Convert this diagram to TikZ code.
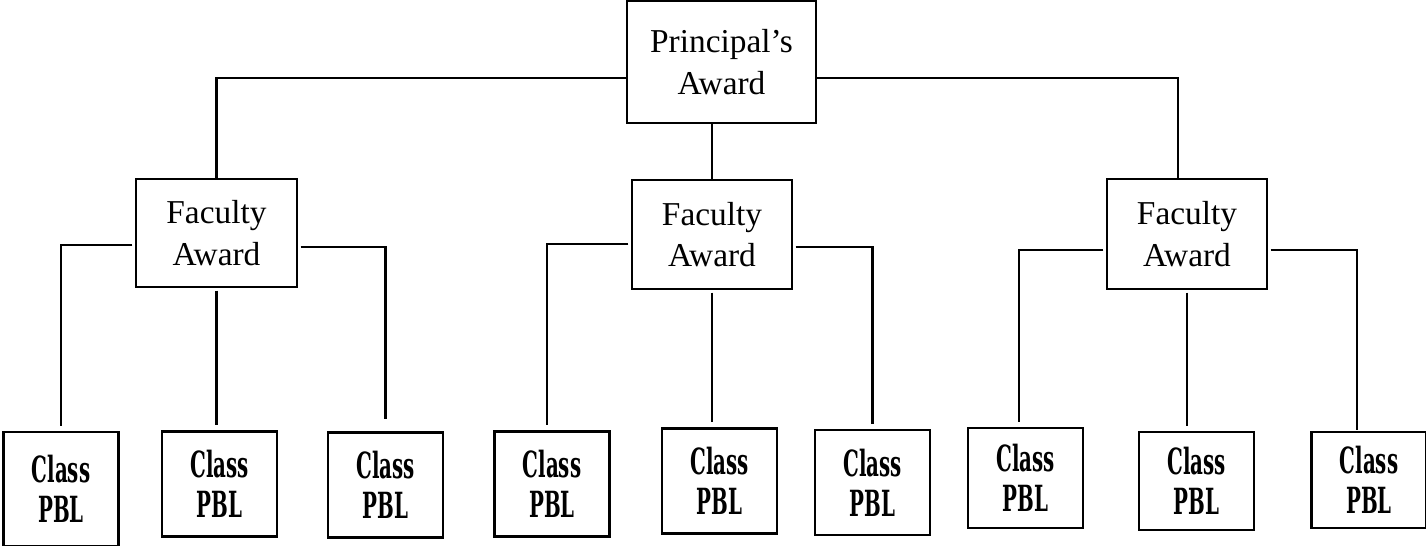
\documentclass[tikz,border=0pt]{standalone}
\usepackage{fontspec}
\setmainfont{Liberation Serif}
\newfontfamily\pblfont[FakeStretch=0.55]{DejaVu Serif}

\tikzset{
  award/.style={draw, line width=1.25pt, align=center, inner sep=0pt,
    font=\fontsize{19}{23.5}\selectfont},
  classbox/.style={draw, line width=1.25pt, align=center, inner sep=0pt,
    minimum width=2.3cm, minimum height=2.1cm,
    font=\pblfont\bfseries\fontsize{20.5}{22.7}\selectfont},
  link/.style={line width=1.2pt},
  drop/.style={line width=1.2pt, shorten >=0.1cm, shorten <=0.05cm},
}

\begin{document}
\begin{tikzpicture}[x=0.02cm, y=-0.02cm]
	\useasboundingbox (0,0) rectangle (1426,546);
	% top award
	\node[award, minimum width=3.78cm, minimum height=2.44cm] (prin) at (721.5,62) {Principal's\\Award};
	% faculty awards
	\node[award, minimum width=3.22cm, minimum height=2.16cm] (fac1) at (216.5,233) {Faculty\\Award};
	\node[award, minimum width=3.2cm, minimum height=2.18cm] (fac2) at (712,234.5) {Faculty\\Award};
	\node[award, minimum width=3.2cm, minimum height=2.2cm] (fac3) at (1187,234) {Faculty\\Award};
	% class boxes
	\node[classbox, minimum height=2.28cm] (cls1) at (61,489) {Class\\PBL};
	\node[classbox] (cls2) at (219.5,484) {Class\\PBL};
	\node[classbox] (cls3) at (385.5,485) {Class\\PBL};
	\node[classbox] (cls4) at (552,484) {Class\\PBL};
	\node[classbox] (cls5) at (719.5,481) {Class\\PBL};
	\node[classbox] (cls6) at (872.5,482.5) {Class\\PBL};
	\node[classbox, minimum height=2cm] (cls7) at (1025.5,478) {Class\\PBL};
	\node[classbox, minimum height=1.96cm] (cls8) at (1196.5,481) {Class\\PBL};
	\node[classbox, minimum height=1.92cm] (cls9) at (1369,480) {Class\\PBL};

	% principal to faculty
	\draw[link] ([yshift=-0.32cm]prin.west) -| (fac1.north);
	\draw[link] (prin.south -| fac2.north) -- (fac2.north);
	\draw[link] ([yshift=-0.32cm]prin.east) -| ([xshift=-0.18cm]fac3.north);

	% faculty to classes
	\draw[drop] ([yshift=-0.24cm]fac1.west) -| (cls1.north);
	\draw[drop] (fac1.south) -- (fac1.south |- cls2.north);
	\draw[drop, shorten >=0.24cm] ([yshift=-0.28cm]fac1.east) -| (cls3.north);

	\draw[drop] ([yshift=-0.19cm]fac2.west) -| ([xshift=-0.1cm]cls4.north);
	\draw[drop] (fac2.south) -- (fac2.south |- cls5.north);
	\draw[drop] ([yshift=-0.25cm]fac2.east) -| (cls6.north);

	\draw[drop] ([yshift=-0.32cm]fac3.west) -| ([xshift=-0.13cm]cls7.north);
	\draw[drop] (fac3.south) -- (fac3.south |- cls8.north);
	\draw[drop, shorten >=0.02cm] ([yshift=-0.32cm]fac3.east) -| ([xshift=-0.24cm]cls9.north);
\end{tikzpicture}
\end{document}
